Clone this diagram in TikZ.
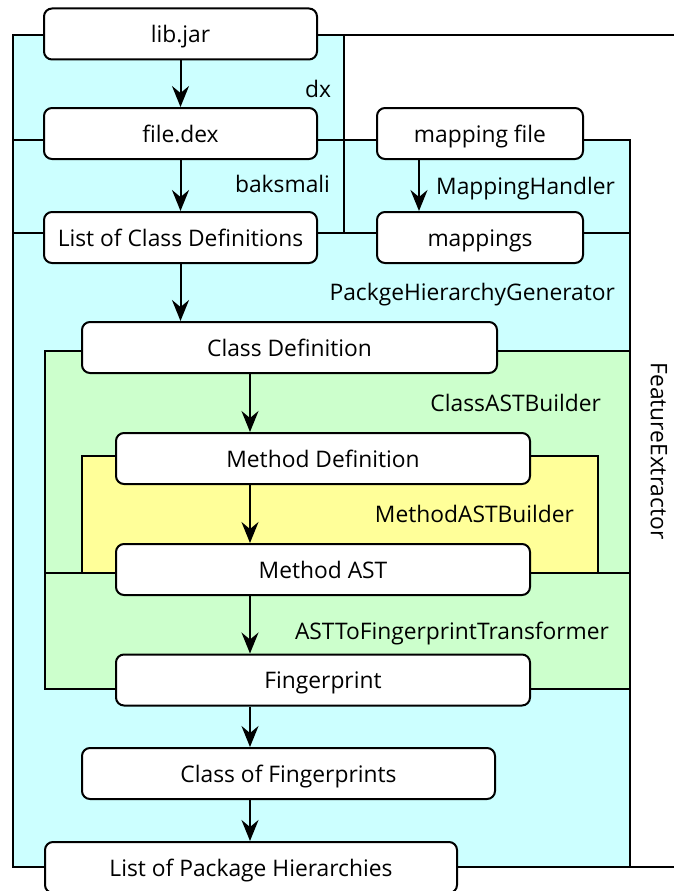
\documentclass[tikz,border=0pt]{standalone}
\usepackage{fontspec}
\setmainfont{Open Sans}
\usetikzlibrary{arrows.meta}
\definecolor{regcyan}{RGB}{204,255,255}
\definecolor{reggreen}{RGB}{204,255,204}
\definecolor{regyellow}{RGB}{255,255,153}

\begin{document}
\begin{tikzpicture}[x=1pt,y=-1pt,line width=2pt,
  txt/.style={font=\fontsize{22.8}{27}\selectfont},
  box/.style={txt,draw,fill=white,rounded corners=8pt,minimum height=51pt,inner sep=0pt,
    text height=22pt,text depth=5pt},
  lbl/.style={txt,anchor=base east,inner sep=0pt},
  region/.style={draw,line width=2pt},
  arr/.style={-{Stealth[length=21pt,width=17pt,inset=7pt]},line width=2pt}]
\useasboundingbox (0,0) rectangle (674,891);

% FeatureExtractor: open on the right
\draw (690,35) -- (13,35) -- (13,867) -- (690,867);

% tool regions
\draw[region,fill=regcyan] (13,35) rectangle (344,140);
\draw[region,fill=regcyan] (13,140) rectangle (344,233);
\draw[region,fill=regcyan] (344,140) rectangle (630,233);
\draw[region,fill=regcyan] (13,233) rectangle (630,867);
\draw[region,fill=reggreen] (45,351) rectangle (630,573);
\draw[region,fill=reggreen] (45,573) rectangle (630,689);
\draw[region,fill=regyellow] (82,456) rectangle (598,573);

% data boxes
\node[box,minimum width=273pt] (lib) at (180.5,34) {lib.jar};
\node[box,minimum width=273pt] (dex) at (180.5,133.5) {file.dex};
\node[box,minimum width=273pt] (lcd) at (180.5,237.5) {List of Class Definitions};
\node[box,minimum width=206pt] (mapfile) at (480,133.5) {mapping file};
\node[box,minimum width=206pt] (mappings) at (480,237.5) {mappings};
\node[box,minimum width=415pt] (cd) at (289.5,347.5) {Class Definition};
\node[box,minimum width=414pt] (md) at (323,458.5) {Method Definition};
\node[box,minimum width=414pt] (mast) at (323,569.5) {Method AST};
\node[box,minimum width=414pt] (fp) at (323,680) {Fingerprint};
\node[box,minimum width=413pt] (cfp) at (288.5,773.5) {Class of Fingerprints};
\node[box,minimum width=412pt] (lph) at (251,867.5) {List of Package Hierarchies};

% tool labels
\node[lbl] (ldx) at (332,97) {dx};
\node[lbl] (lbak) at (331,192) {baksmali};
\node[lbl] (lmh) at (616,194) {MappingHandler};
\node[lbl] (lphg) at (616,300) {PackgeHierarchyGenerator};
\node[lbl] (lcab) at (602,411) {ClassASTBuilder};
\node[lbl] (lmab) at (575,522) {MethodASTBuilder};
\node[lbl] (latf) at (610,639) {ASTToFingerprintTransformer};
\node[txt,rotate=-90,inner sep=0pt] (lfe) at (659,451) {FeatureExtractor};

% flow
\coordinate (ax) at (250,0);
\coordinate (mx) at (419,0);
\draw[arr] (lib.south) -- (dex.north);
\draw[arr] (dex.south) -- (lcd.north);
\draw[arr] (mapfile.south -| mx) -- (mappings.north -| mx);
\draw[arr] (lcd.south) -- (lcd.south |- cd.north);
\draw[arr] (cd.south -| ax) -- (md.north -| ax);
\draw[arr] (md.south -| ax) -- (mast.north -| ax);
\draw[arr] (mast.south -| ax) -- (fp.north -| ax);
\draw[arr] (fp.south -| ax) -- (cfp.north -| ax);
\draw[arr] (cfp.south -| ax) -- (lph.north -| ax);
\end{tikzpicture}
\end{document}
